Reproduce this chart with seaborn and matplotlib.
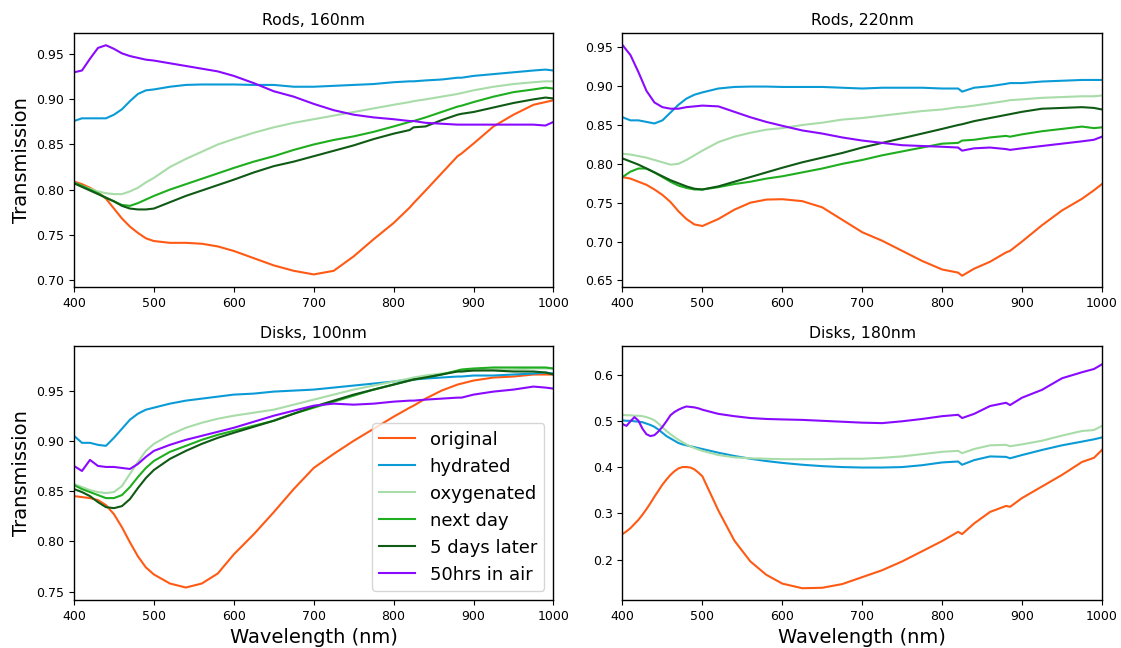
import matplotlib
matplotlib.use("Agg")
import matplotlib.pyplot as plt
import numpy as np
import pandas as pd
import seaborn as sns

# Wavelength grids (nm)
WL = [400, 410, 420, 430, 440, 450, 460, 470, 480, 490, 500, 520, 540, 560, 580,
      600, 625, 650, 675, 700, 725, 750, 775, 800, 820, 825, 840, 860, 880, 885,
      900, 925, 950, 975, 990, 1000]
WL_FINE = [400, 405, 410, 415, 420, 425, 430, 435, 440, 445, 450, 455, 460, 465,
           470, 475, 480, 485, 490, 495, 500, 520, 540, 560, 580, 600, 625, 650,
           675, 700, 725, 750, 775, 800, 820, 825, 840, 860, 880, 885, 900, 925,
           950, 975, 990, 1000]

CONDITIONS = ["original", "hydrated", "oxygenated", "next day", "5 days later", "50hrs in air"]
COLORS = ["#ff5a14", "#0a9bd7", "#a8dca8", "#1fae1f", "#0f5a14", "#8a0aff"]

# Rods, 160nm
rods160_original = [0.809, 0.806, 0.802, 0.797, 0.790, 0.779, 0.768, 0.759, 0.752, 0.746, 0.743, 0.741,
                    0.741, 0.740, 0.737, 0.732, 0.724, 0.716, 0.710, 0.706, 0.710, 0.726, 0.745, 0.763,
                    0.780, 0.785, 0.799, 0.818, 0.837, 0.840, 0.851, 0.870, 0.883, 0.894, 0.897, 0.899]
rods160_hydrated = [0.876, 0.879, 0.879, 0.879, 0.879, 0.883, 0.889, 0.898, 0.906, 0.910, 0.911, 0.914,
                    0.916, 0.9165, 0.9165, 0.9165, 0.916, 0.916, 0.914, 0.914, 0.915, 0.916, 0.917, 0.919,
                    0.920, 0.920, 0.921, 0.922, 0.924, 0.924, 0.926, 0.928, 0.930, 0.932, 0.933, 0.932]
rods160_oxygenated = [0.808, 0.804, 0.801, 0.798, 0.796, 0.795, 0.795, 0.798, 0.802, 0.808, 0.813, 0.825,
                      0.834, 0.842, 0.850, 0.856, 0.863, 0.869, 0.874, 0.878, 0.882, 0.886, 0.890, 0.894,
                      0.897, 0.898, 0.900, 0.903, 0.906, 0.907, 0.910, 0.914, 0.917, 0.919, 0.920, 0.920]
rods160_nextday = [0.808, 0.804, 0.800, 0.796, 0.791, 0.787, 0.783, 0.782, 0.785, 0.789, 0.793, 0.800,
                   0.806, 0.812, 0.818, 0.824, 0.831, 0.837, 0.844, 0.850, 0.855, 0.859, 0.864, 0.870,
                   0.875, 0.876, 0.880, 0.886, 0.892, 0.893, 0.897, 0.903, 0.908, 0.911, 0.913, 0.912]
rods160_5days = [0.807, 0.803, 0.799, 0.795, 0.791, 0.787, 0.782, 0.779, 0.778, 0.778, 0.779, 0.786,
                 0.793, 0.799, 0.805, 0.811, 0.819, 0.826, 0.831, 0.837, 0.843, 0.849, 0.856, 0.862,
                 0.866, 0.869, 0.870, 0.877, 0.883, 0.884, 0.886, 0.891, 0.896, 0.900, 0.902, 0.901]
rods160_air = [0.930, 0.932, 0.945, 0.957, 0.960, 0.956, 0.951, 0.948, 0.946, 0.944, 0.943, 0.940,
               0.937, 0.934, 0.931, 0.926, 0.918, 0.909, 0.903, 0.895, 0.888, 0.883, 0.880, 0.878,
               0.876, 0.876, 0.874, 0.873, 0.872, 0.872, 0.872, 0.872, 0.872, 0.872, 0.871, 0.875]

# Rods, 220nm
rods220_original = [0.783, 0.781, 0.777, 0.773, 0.767, 0.760, 0.751, 0.739, 0.729, 0.722, 0.720, 0.729,
                    0.741, 0.750, 0.754, 0.7545, 0.752, 0.744, 0.728, 0.712, 0.701, 0.688, 0.675, 0.664,
                    0.660, 0.656, 0.665, 0.674, 0.686, 0.688, 0.700, 0.721, 0.740, 0.755, 0.766, 0.774]
rods220_hydrated = [0.860, 0.856, 0.856, 0.854, 0.852, 0.856, 0.866, 0.876, 0.884, 0.889, 0.892, 0.897,
                    0.899, 0.8995, 0.8995, 0.899, 0.899, 0.899, 0.898, 0.897, 0.898, 0.898, 0.898, 0.897,
                    0.897, 0.893, 0.898, 0.900, 0.903, 0.904, 0.904, 0.906, 0.907, 0.908, 0.908, 0.908]
rods220_oxygenated = [0.813, 0.812, 0.810, 0.808, 0.805, 0.802, 0.799, 0.800, 0.805, 0.811, 0.817, 0.828,
                      0.835, 0.840, 0.844, 0.846, 0.850, 0.853, 0.857, 0.859, 0.862, 0.865, 0.868, 0.870,
                      0.873, 0.873, 0.875, 0.878, 0.881, 0.882, 0.883, 0.885, 0.886, 0.887, 0.887, 0.888]
rods220_nextday = [0.783, 0.790, 0.794, 0.794, 0.789, 0.783, 0.777, 0.772, 0.769, 0.767, 0.767, 0.770,
                   0.774, 0.777, 0.781, 0.784, 0.789, 0.794, 0.800, 0.805, 0.811, 0.816, 0.821, 0.826,
                   0.827, 0.830, 0.831, 0.834, 0.836, 0.835, 0.838, 0.842, 0.845, 0.848, 0.846, 0.847]
rods220_5days = [0.807, 0.803, 0.799, 0.794, 0.789, 0.784, 0.779, 0.775, 0.771, 0.768, 0.767, 0.771,
                 0.777, 0.783, 0.789, 0.795, 0.802, 0.808, 0.814, 0.821, 0.827, 0.833, 0.839, 0.845,
                 0.850, 0.851, 0.855, 0.859, 0.863, 0.864, 0.867, 0.871, 0.872, 0.873, 0.872, 0.870]
rods220_air = [0.953, 0.940, 0.918, 0.894, 0.879, 0.873, 0.871, 0.871, 0.873, 0.874, 0.875, 0.874,
               0.867, 0.860, 0.854, 0.849, 0.843, 0.839, 0.834, 0.830, 0.827, 0.824, 0.823, 0.822,
               0.821, 0.817, 0.820, 0.821, 0.819, 0.818, 0.820, 0.823, 0.826, 0.829, 0.831, 0.835]

# Disks, 100nm
disks100_original = [0.845, 0.844, 0.843, 0.841, 0.836, 0.827, 0.814, 0.799, 0.785, 0.774, 0.767, 0.758,
                     0.754, 0.758, 0.768, 0.787, 0.807, 0.829, 0.852, 0.873, 0.887, 0.900, 0.912, 0.924,
                     0.933, 0.935, 0.942, 0.950, 0.956, 0.957, 0.960, 0.963, 0.964, 0.966, 0.966, 0.966]
disks100_hydrated = [0.905, 0.898, 0.898, 0.896, 0.895, 0.903, 0.912, 0.921, 0.927, 0.931, 0.933, 0.937,
                     0.940, 0.942, 0.944, 0.946, 0.947, 0.949, 0.950, 0.951, 0.953, 0.955, 0.957, 0.959,
                     0.961, 0.961, 0.962, 0.963, 0.964, 0.964, 0.965, 0.965, 0.966, 0.967, 0.968, 0.967]
disks100_oxygenated = [0.857, 0.854, 0.851, 0.849, 0.848, 0.849, 0.855, 0.867, 0.879, 0.890, 0.897, 0.906,
                       0.913, 0.918, 0.922, 0.925, 0.928, 0.931, 0.936, 0.941, 0.946, 0.951, 0.955, 0.959,
                       0.962, 0.963, 0.965, 0.967, 0.969, 0.969, 0.970, 0.971, 0.971, 0.972, 0.972, 0.972]
disks100_nextday = [0.856, 0.852, 0.849, 0.846, 0.843, 0.843, 0.846, 0.854, 0.864, 0.873, 0.880, 0.889,
                    0.895, 0.901, 0.906, 0.910, 0.915, 0.920, 0.927, 0.933, 0.939, 0.945, 0.951, 0.956,
                    0.960, 0.961, 0.963, 0.966, 0.970, 0.971, 0.972, 0.973, 0.973, 0.973, 0.973, 0.972]
disks100_5days = [0.852, 0.849, 0.845, 0.839, 0.834, 0.833, 0.835, 0.842, 0.853, 0.863, 0.871, 0.882,
                  0.890, 0.897, 0.903, 0.908, 0.914, 0.920, 0.927, 0.934, 0.940, 0.946, 0.951, 0.956,
                  0.960, 0.961, 0.963, 0.966, 0.969, 0.969, 0.970, 0.970, 0.969, 0.969, 0.968, 0.966]
disks100_air = [0.875, 0.870, 0.881, 0.875, 0.874, 0.874, 0.873, 0.872, 0.877, 0.884, 0.890, 0.896,
                0.901, 0.905, 0.909, 0.913, 0.919, 0.925, 0.930, 0.935, 0.937, 0.936, 0.937, 0.939,
                0.940, 0.940, 0.941, 0.942, 0.943, 0.943, 0.946, 0.949, 0.951, 0.954, 0.953, 0.952]

# Disks, 180nm (finer grid below 500 nm)
disks180_original = [0.255, 0.261, 0.268, 0.277, 0.286, 0.297, 0.309, 0.322, 0.336, 0.349, 0.362, 0.373,
                     0.383, 0.391, 0.397, 0.400, 0.400, 0.399, 0.395, 0.388, 0.380, 0.306, 0.241, 0.196,
                     0.167, 0.148, 0.138, 0.139, 0.147, 0.162, 0.177, 0.196, 0.218, 0.240, 0.260, 0.255,
                     0.278, 0.303, 0.316, 0.314, 0.333, 0.358, 0.383, 0.411, 0.420, 0.437]
disks180_hydrated = [0.501, 0.500, 0.500, 0.499, 0.498, 0.497, 0.494, 0.491, 0.487, 0.481, 0.474, 0.467,
                     0.462, 0.457, 0.452, 0.449, 0.447, 0.445, 0.443, 0.441, 0.439, 0.431, 0.424, 0.418,
                     0.413, 0.409, 0.405, 0.402, 0.400, 0.399, 0.399, 0.400, 0.404, 0.410, 0.412, 0.405,
                     0.415, 0.423, 0.422, 0.419, 0.426, 0.437, 0.447, 0.455, 0.460, 0.464]
disks180_oxygenated = [0.513, 0.512, 0.512, 0.511, 0.511, 0.510, 0.508, 0.505, 0.501, 0.494, 0.486, 0.478,
                       0.471, 0.465, 0.459, 0.454, 0.449, 0.445, 0.441, 0.438, 0.435, 0.426, 0.421, 0.419,
                       0.418, 0.417, 0.417, 0.417, 0.418, 0.418, 0.420, 0.423, 0.428, 0.433, 0.435, 0.430,
                       0.439, 0.447, 0.448, 0.445, 0.449, 0.457, 0.468, 0.478, 0.480, 0.489]
disks180_air = [0.493, 0.489, 0.499, 0.508, 0.500, 0.483, 0.471, 0.467, 0.469, 0.477, 0.487, 0.499,
                0.512, 0.519, 0.524, 0.528, 0.531, 0.530, 0.529, 0.527, 0.524, 0.515, 0.510, 0.506,
                0.504, 0.503, 0.502, 0.500, 0.498, 0.496, 0.495, 0.499, 0.504, 0.510, 0.513, 0.506,
                0.515, 0.532, 0.539, 0.534, 0.550, 0.567, 0.592, 0.605, 0.612, 0.622]

PANELS = [
    ("Rods, 160nm", WL, [rods160_original, rods160_hydrated, rods160_oxygenated,
                         rods160_nextday, rods160_5days, rods160_air], (0.692, 0.9735),
     [0.70, 0.75, 0.80, 0.85, 0.90, 0.95]),
    ("Rods, 220nm", WL, [rods220_original, rods220_hydrated, rods220_oxygenated,
                         rods220_nextday, rods220_5days, rods220_air], (0.6414, 0.9684),
     [0.65, 0.70, 0.75, 0.80, 0.85, 0.90, 0.95]),
    ("Disks, 100nm", WL, [disks100_original, disks100_hydrated, disks100_oxygenated,
                          disks100_nextday, disks100_5days, disks100_air], (0.7416, 0.9944),
     [0.75, 0.80, 0.85, 0.90, 0.95]),
    ("Disks, 180nm", WL_FINE, [disks180_original, disks180_hydrated, disks180_oxygenated,
                               None, None, disks180_air], (0.1126, 0.6618),
     [0.2, 0.3, 0.4, 0.5, 0.6]),
]

fig, axes = plt.subplots(2, 2, figsize=(11.21, 6.48), dpi=100)
fig.subplots_adjust(left=0.066, right=0.983, top=0.949, bottom=0.0741,
                    wspace=0.144, hspace=0.232)

palette = dict(zip(CONDITIONS, COLORS))

for idx, (ax, (title, wl, series, ylim, yticks)) in enumerate(zip(axes.flat, PANELS)):
    frames = []
    for cond, vals in zip(CONDITIONS, series):
        if vals is None:
            continue
        frames.append(pd.DataFrame({"wavelength": wl, "T": vals, "condition": cond}))
    df = pd.concat(frames, ignore_index=True)
    present = [c for c, v in zip(CONDITIONS, series) if v is not None]
    sns.lineplot(data=df, x="wavelength", y="T", hue="condition", hue_order=present,
                 palette=palette, linewidth=1.5, ax=ax, legend=(idx == 2),
                 estimator=None, sort=False)
    ax.set_xlim(400, 1000)
    ax.set_ylim(*ylim)
    ax.set_yticks(yticks)
    ax.set_yticklabels([f"{t:.2f}" if ylim[0] > 0.5 else f"{t:.1f}" for t in yticks])
    ax.set_xticks([400, 500, 600, 700, 800, 900, 1000])
    ax.tick_params(labelsize=9)
    ax.set_title(title, fontsize=11.3)
    ax.set_xlabel("Wavelength (nm)" if idx >= 2 else "", fontsize=14)
    ax.set_ylabel("Transmission" if idx % 2 == 0 else "", fontsize=14)
    for sp in ax.spines.values():
        sp.set_linewidth(1.0)
    if idx == 2:
        handles, labels = ax.get_legend_handles_labels()
        ax.legend(handles=handles, labels=labels, loc="lower right", fontsize=13)

fig.savefig("out.png", dpi=100)
